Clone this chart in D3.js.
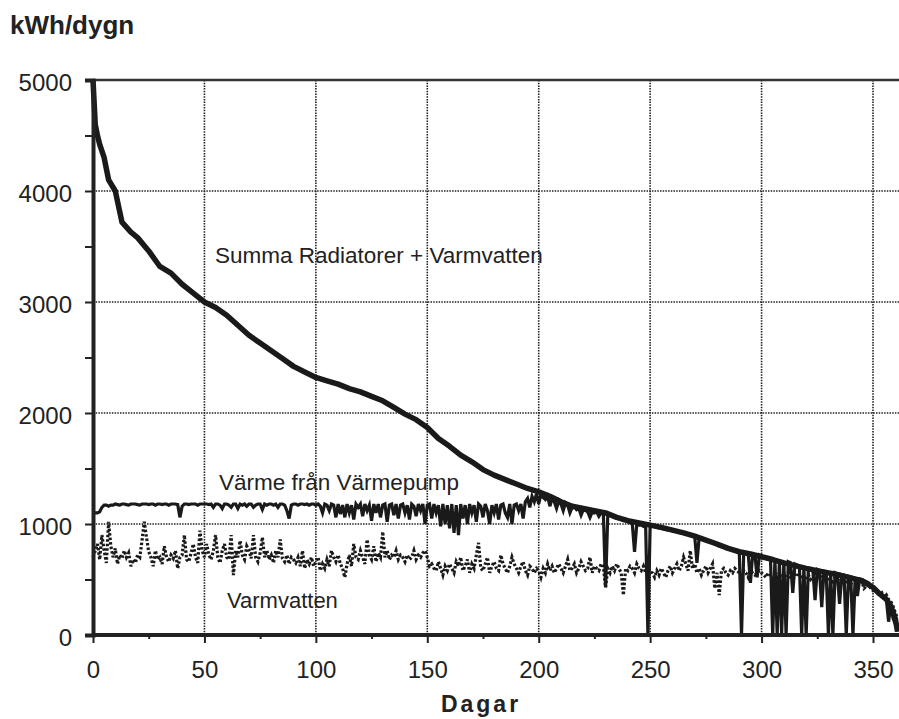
<!DOCTYPE html>
<html><head><meta charset="utf-8">
<script src="https://cdn.jsdelivr.net/npm/d3@7"></script>
<style>
html,body{margin:0;padding:0;background:#fff;}
text{font-family:"Liberation Sans",Arial,Helvetica,sans-serif;fill:#222;}
</style></head>
<body>
<svg id="chart" width="899" height="719"></svg>
<script>
// ---- DATA ----
const yTicks = [0, 1000, 2000, 3000, 4000, 5000];
const xTicks = [0, 50, 100, 150, 200, 250, 300, 350];
const yLabel = "kWh/dygn";
const xLabel = "Dagar";
const seriesLabels = ["Summa Radiatorer + Varmvatten", "Värme från Värmepump", "Varmvatten"];

// Summa Radiatorer + Varmvatten (duration curve, read every few days)
const sumDays = [0,1,2,3,5,7,10,13,17,20,25,30,35,40,45,50,55,60,65,70,75,80,85,90,95,100,105,110,115,120,125,130,135,140,145,150,155,160,165,170,175,180,185,190,195,200,205,210,215,220,225,230,235,240,245,250,255,260,265,270,275,280,285,290,295,300,305,310,315,320,325,330,335,340,345,350,353,356,358,360,361];
const sumValues = [5000,4600,4500,4420,4300,4100,4000,3720,3630,3580,3460,3320,3260,3160,3080,3000,2950,2880,2790,2700,2630,2560,2490,2420,2370,2320,2290,2260,2220,2190,2150,2110,2050,1990,1940,1870,1770,1700,1620,1560,1490,1440,1400,1360,1320,1290,1250,1200,1160,1140,1120,1100,1060,1030,1010,990,970,945,920,890,855,820,780,750,730,705,680,650,625,600,580,560,540,515,490,430,370,320,260,150,30];

// Värme från Värmepump (daily, day 0..361)
const heatPump = [
1100,1100,1100,1110,1150,1170,1170,1160,1170,1170,
1180,1175,1170,1180,1180,1175,1170,1180,1180,1180,
1175,1170,1180,1180,1180,1175,1180,1180,1170,1180,
1180,1175,1180,1180,1170,1180,1180,1180,1175,1060,
1160,1180,1180,1175,1180,1180,1180,1170,1180,1180,
1180,1180,1175,1180,1150,1180,1180,1170,1140,1180,
1180,1170,1150,1180,1180,1140,1180,1170,1180,1160,
1180,1180,1150,1170,1180,1180,1130,1180,1170,1180,
1180,1170,1180,1150,1180,1180,1170,1120,1050,1170,
1180,1180,1170,1180,1180,1175,1180,1170,1180,1180,
1170,1180,1160,1100,1180,1170,1120,1180,1170,1060,
1180,1090,1170,1060,1180,1100,1170,1040,1180,1150,
1180,1070,1180,1120,1170,1030,1180,1100,1180,1060,
1170,1180,1020,1170,1180,1080,1180,1050,1170,1180,
1100,1170,1040,1180,1160,1070,1180,1120,1180,1000,
1170,1180,1050,1180,1100,1170,980,1180,1000,1170,
960,1180,920,1170,900,1180,1050,1170,1000,1180,
1100,1170,1020,1180,1160,1060,1180,1120,1000,1170,
1100,1180,1040,1170,1180,1100,1060,1180,1000,1170,
1180,1120,1180,1050,1200,1230,1150,1250,1200,1270,
1180,1270,1240,1220,1250,1160,1230,1200,1140,1210,
1180,1120,1190,1170,1100,1150,1160,1130,1140,1080,
1130,1120,1110,1060,1110,1100,1110,1070,1100,1100,
430,1090,1080,1070,1060,1050,1050,1040,1030,1030,
1020,1010,1000,750,1000,990,990,980,970,0,
990,980,975,970,965,960,955,950,950,945,
940,935,930,925,920,915,910,905,900,895,
890,650,880,870,860,850,845,840,830,820,
810,800,795,790,780,775,770,765,760,755,
750,0,745,740,735,470,730,725,520,720,
710,705,700,695,690,0,685,0,675,0,
665,0,660,650,380,640,630,620,0,620,
0,600,600,590,315,590,580,250,575,570,
0,565,0,560,550,280,545,540,0,530,
525,0,515,350,505,500,490,480,470,450,
430,410,390,370,350,330,320,120,280,150,
100,30];

// Varmvatten (daily, day 0..361)
const hotWater = [
700,760,820,680,900,760,650,1020,800,700,
780,640,720,690,760,700,740,620,680,650,
720,700,850,1020,880,750,700,620,760,680,
700,640,800,700,660,720,690,760,600,700,
720,900,680,660,740,820,700,650,940,760,
700,820,720,680,760,900,700,650,760,820,
700,680,900,540,760,700,850,720,680,800,
760,690,900,700,660,740,880,700,760,680,
720,650,760,700,860,690,660,720,640,700,
680,650,700,620,760,600,680,640,700,620,
660,700,580,640,600,680,620,760,700,660,
720,640,600,520,640,720,620,820,700,680,
760,700,640,860,720,680,800,660,740,700,
930,700,760,680,720,700,760,680,720,700,
660,720,680,700,760,680,720,700,740,760,
700,620,640,600,580,660,600,540,620,580,
640,600,560,660,620,700,580,620,680,560,
640,600,720,830,600,580,640,700,560,620,
660,600,580,720,640,600,560,620,700,640,
600,560,620,660,580,540,620,600,560,600,
580,520,600,560,640,580,620,560,600,640,
600,560,620,680,580,600,640,560,600,660,
620,580,600,700,560,620,600,580,640,620,
430,600,560,620,580,640,600,560,360,600,
580,620,600,560,640,600,580,620,560,600,
570,560,520,580,540,600,560,520,580,620,
560,600,640,580,620,700,640,580,760,600,
640,560,600,540,580,620,560,600,640,420,
560,360,580,600,560,540,580,560,600,580,
560,540,580,560,520,580,560,540,560,580,
560,540,520,560,540,500,540,520,560,540,
520,540,560,520,500,540,560,520,540,500,
520,540,500,520,560,500,520,540,500,480,
520,500,480,520,500,480,500,460,480,500,
460,480,500,440,460,480,420,440,460,420,
400,420,380,360,380,340,360,320,300,260,
200,150];

// ---- CHART ----
const svg = d3.select("#chart");
const x = d3.scaleLinear().domain([0, 350]).range([93, 873]);
const y = d3.scaleLinear().domain([0, 5000]).range([635, 80]);
const X0 = x(0), Y0 = y(0), YT = y(5000), XR = 899;

// grid
const grid = svg.append("g").attr("stroke", "#222").attr("stroke-width", 1.6).attr("stroke-dasharray", "1.5,1.2");
grid.selectAll("line.v").data(xTicks.filter(d => d > 0)).join("line")
  .attr("x1", d => x(d)).attr("x2", d => x(d)).attr("y1", YT).attr("y2", Y0);
grid.selectAll("line.h").data(yTicks.filter(d => d > 0 && d < 5000)).join("line")
  .attr("x1", X0).attr("x2", XR).attr("y1", d => y(d)).attr("y2", d => y(d));

// top border
svg.append("line").attr("x1", X0).attr("x2", XR).attr("y1", YT).attr("y2", YT)
  .attr("stroke", "#333").attr("stroke-width", 2.5);

// series
const lineSum = d3.line().x((d, i) => x(sumDays[i])).y(d => y(d));
const lineDaily = d3.line().x((d, i) => x(i)).y(d => y(d));

svg.append("path").datum(hotWater).attr("d", lineDaily)
  .attr("fill", "none").attr("stroke", "#1a1a1a").attr("stroke-width", 3.2)
  .attr("stroke-dasharray", "2.5,2");
svg.append("path").datum(heatPump).attr("d", lineDaily)
  .attr("fill", "none").attr("stroke", "#1a1a1a").attr("stroke-width", 3.2).attr("stroke-linejoin", "miter");
svg.append("path").datum(sumValues).attr("d", lineSum)
  .attr("fill", "none").attr("stroke", "#1a1a1a").attr("stroke-width", 5.5).attr("stroke-linejoin", "round");

// axes
const yAxis = d3.axisLeft(y).tickValues(d3.range(0, 5001, 500)).tickSize(8).tickFormat(d => yTicks.includes(d) ? d : "");
const gy = svg.append("g").attr("transform", `translate(${X0},0)`).call(yAxis);
gy.select(".domain").attr("stroke", "#222").attr("stroke-width", 4);
gy.selectAll(".tick line").attr("stroke", "#222").attr("stroke-width", 2);
gy.selectAll(".tick text").attr("font-size", 24).attr("fill", "#222").attr("x", -21).attr("dy", "0.45em")
  .style("font-family", '"Liberation Sans", Arial, sans-serif');

const xAxis = d3.axisBottom(x).tickValues(d3.range(0, 351, 25)).tickSize(8).tickFormat(d => xTicks.includes(d) ? d : "");
const gx = svg.append("g").attr("transform", `translate(0,${Y0})`).call(xAxis);
gx.select(".domain").attr("stroke", "#222").attr("stroke-width", 4).attr("d", `M${X0},0H${XR}`);
gx.selectAll(".tick line").attr("stroke", "#222").attr("stroke-width", 2)
  .attr("y2", d => xTicks.includes(d) ? 8 : 4);
gx.selectAll(".tick text").attr("font-size", 24).attr("fill", "#222").attr("y", 26).attr("dy", "0.71em")
  .style("font-family", '"Liberation Sans", Arial, sans-serif');

// titles
svg.append("text").attr("x", 10).attr("y", 34).attr("font-size", 26).attr("font-weight", "bold").text(yLabel);
svg.append("text").attr("x", 481).attr("y", 712).attr("text-anchor", "middle").attr("font-size", 23)
  .attr("font-weight", "bold").attr("letter-spacing", 3).text(xLabel);

// series labels
svg.append("text").attr("x", 215).attr("y", 263).attr("font-size", 22.5).text(seriesLabels[0]);
svg.append("text").attr("x", 219).attr("y", 490).attr("font-size", 22.5).text(seriesLabels[1]);
svg.append("text").attr("x", 227).attr("y", 608).attr("font-size", 22).text(seriesLabels[2]);
</script>
</body></html>
